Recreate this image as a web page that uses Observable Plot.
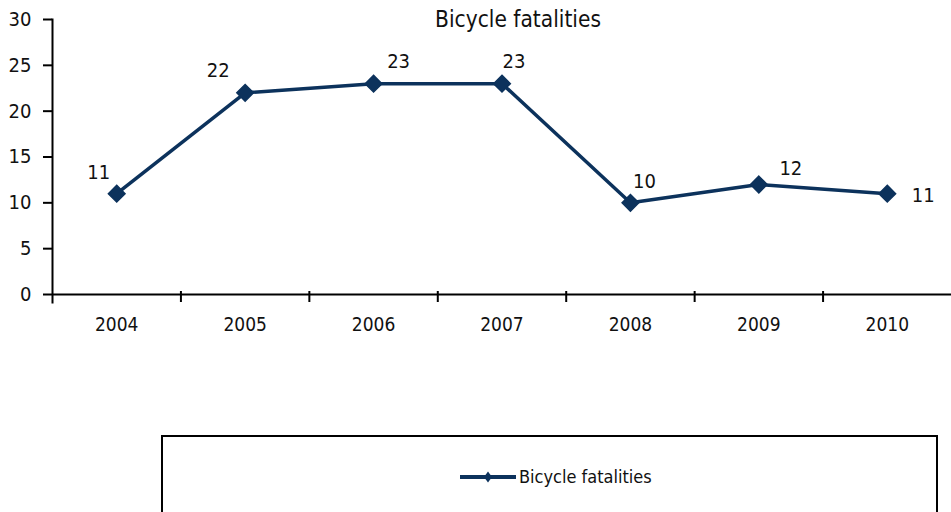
<!DOCTYPE html>
<html>
<head>
<meta charset="utf-8">
<script src="https://cdn.jsdelivr.net/npm/d3@7"></script>
<script src="https://cdn.jsdelivr.net/npm/@observablehq/plot@0.6"></script>
<style>
  html, body { margin: 0; padding: 0; background: #fff; overflow: hidden; }
  body { width: 951px; height: 512px; position: relative; font-family: "DejaVu Sans Condensed", "DejaVu Sans", sans-serif; font-stretch: condensed; }
  #title { position: absolute; left: 518px; top: 6px; transform: translateX(-50%); font-size: 22.5px; color: #111; white-space: nowrap; }
  #legend { position: absolute; left: 161px; top: 435px; width: 773px; height: 120px; border: 2px solid #000; box-sizing: content-box; }
  #legend .item { position: absolute; left: 296px; top: 29px; display: flex; align-items: center; font-size: 18px; color: #111; }
</style>
</head>
<body>
<div id="chart"></div>
<div id="title">Bicycle fatalities</div>
<div id="legend"></div>
<script>
const years = [2004, 2005, 2006, 2007, 2008, 2009, 2010];
const fatalities = [11, 22, 23, 23, 10, 12, 11];
const yTicks = [0, 5, 10, 15, 20, 25, 30];
const seriesName = "Bicycle fatalities";
// label placement (dx, dy) per point, as in the original chart
const labelDx = [-18, -27, 25, 12, 14, 32, 36];
const labelDy = [-21, -22, -22, -22, -21, -16, 2];

const color = "#0c325c";
const data = years.map((year, i) => ({year, value: fatalities[i]}));
const boundaries = years.slice(1).map(y => y - 0.5);
const font = '"DejaVu Sans Condensed", "DejaVu Sans", sans-serif';

const labelMarks = data.map((d, i) => Plot.text([d], {
  x: "year", y: "value", text: d => String(d.value),
  dx: labelDx[i], dy: labelDy[i], fontSize: 20, fill: "#111"
}));

const chart = Plot.plot({
  width: 951,
  height: 435,
  marginLeft: 52,
  marginRight: 0,
  marginTop: 19,
  marginBottom: 141,
  style: {fontFamily: font, fontStretch: "condensed", background: "white", color: "#111"},
  x: {type: "linear", domain: [years[0] - 0.5, years[years.length - 1] + 0.5]},
  y: {domain: [0, 30]},
  marks: [
    Plot.axisY(yTicks, {label: null, tickSize: 9, tickPadding: 12, strokeWidth: 2, fontSize: 20, stroke: "#000", fill: "#111"}),
    Plot.frame({anchor: "left", strokeWidth: 2, stroke: "#000", insetBottom: -8}),
    Plot.axisX(boundaries, {label: null, tickSize: 11, dy: -3, strokeWidth: 2, stroke: "#000", tickFormat: () => ""}),
    Plot.axisX(years, {label: null, tickSize: 0, tickPadding: 23, fontSize: 19, fill: "#111", tickFormat: d => String(d)}),
    Plot.ruleY([0], {strokeWidth: 2, stroke: "#000"}),
    Plot.line(data, {x: "year", y: "value", stroke: color, strokeWidth: 3.5}),
    Plot.dot(data, {x: "year", y: "value", symbol: "diamond2", r: 7.5, fill: color, stroke: color}),
    ...labelMarks
  ]
});
document.getElementById("chart").appendChild(chart);

// legend
const legend = document.getElementById("legend");
const item = document.createElement("div");
item.className = "item";
const ns = "http://www.w3.org/2000/svg";
const sw = document.createElementNS(ns, "svg");
sw.setAttribute("width", 58);
sw.setAttribute("height", 20);
sw.innerHTML = `<line x1="1" x2="57" y1="10" y2="10" stroke="${color}" stroke-width="4"/>` +
  `<path d="M25,10L29,4.5L33,10L29,15.5Z" fill="${color}"/>`;
item.appendChild(sw);
const lab = document.createElement("span");
lab.textContent = seriesName;
lab.style.marginLeft = "2px";
item.appendChild(lab);
legend.appendChild(item);
</script>
</body>
</html>
